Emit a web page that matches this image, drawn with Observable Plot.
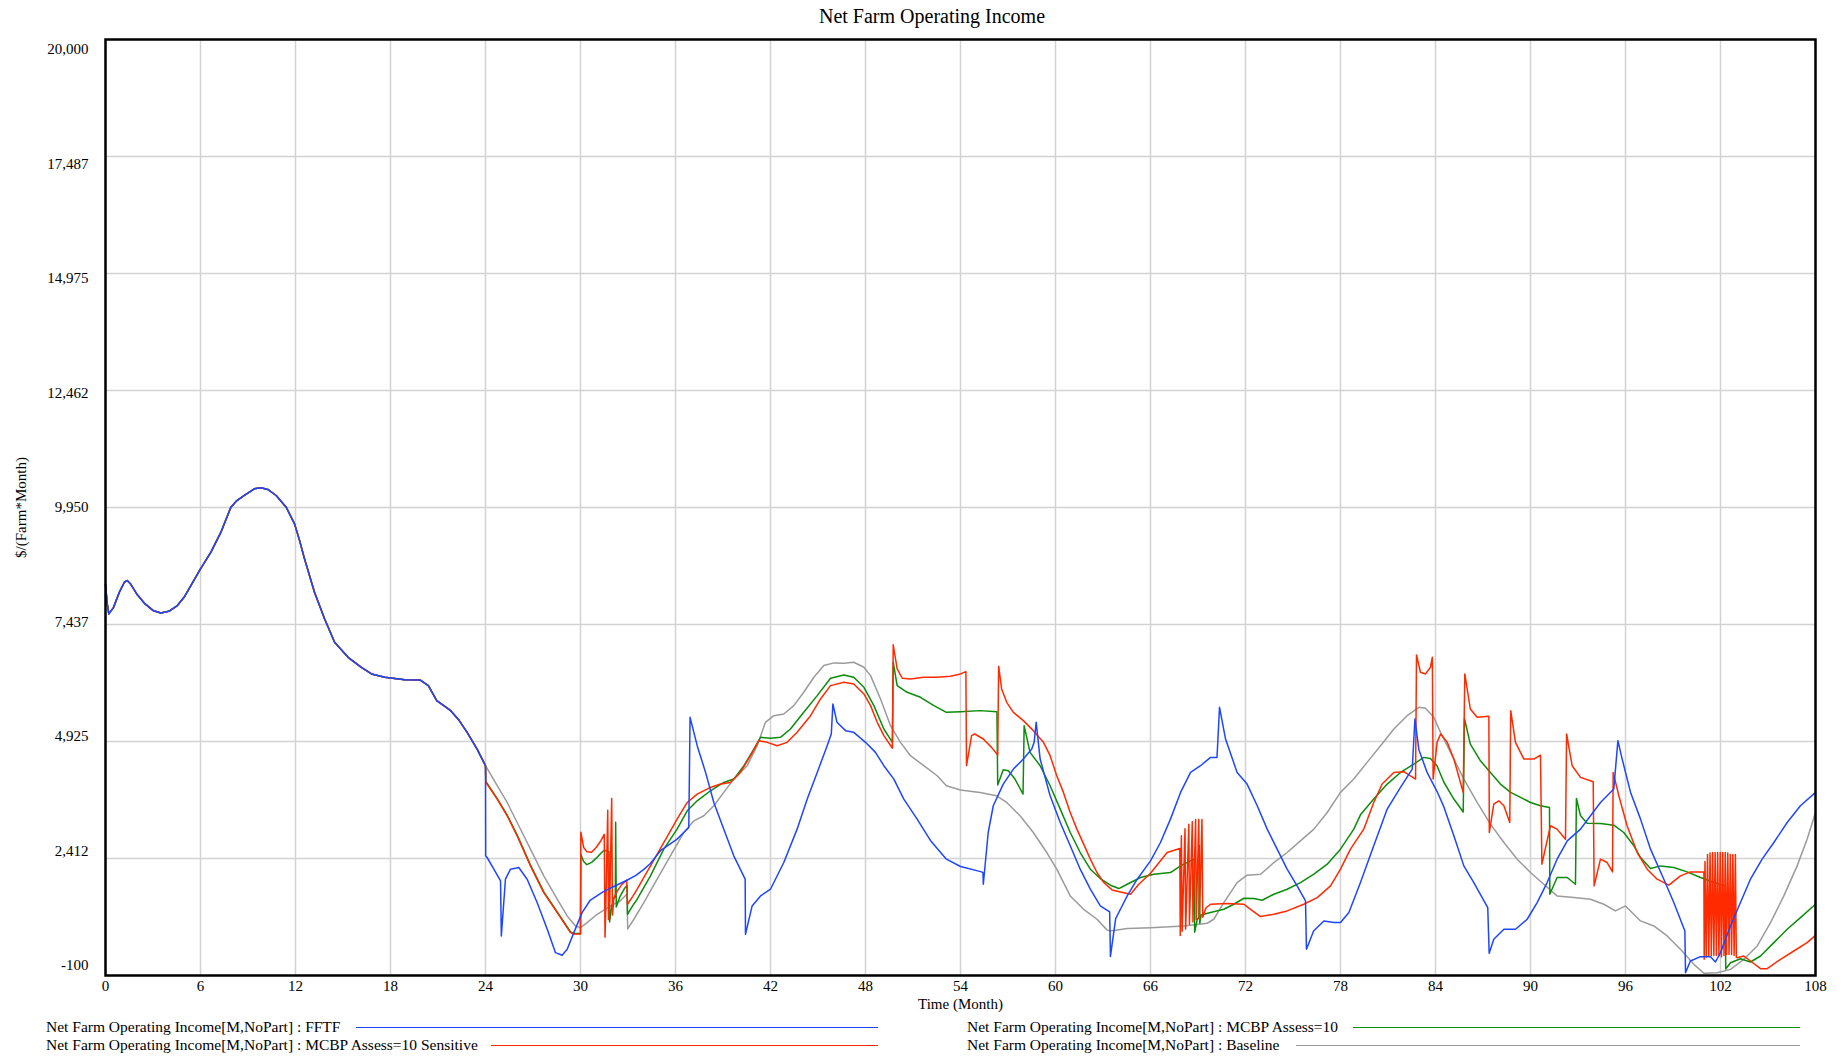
<!DOCTYPE html>
<html>
<head>
<meta charset="utf-8">
<script src="https://cdn.jsdelivr.net/npm/d3@7"></script>
<script src="https://cdn.jsdelivr.net/npm/@observablehq/plot@0.6"></script>
<style>
  html, body { margin: 0; padding: 0; background: #fff; }
  body { width: 1843px; height: 1057px; position: relative; overflow: hidden;
         font-family: "Liberation Serif", "Times New Roman", serif; color: #000; }
  #title { position: absolute; top: 4px; left: 932px; transform: translateX(-50%);
           font-size: 20px; white-space: nowrap; line-height: 24px; }
  #chart { position: absolute; top: 30px; left: 0; }
  .lg { position: absolute; font-size: 15.5px; line-height: 18px; white-space: nowrap; }
  .sw { position: absolute; height: 0; border-top-style: solid; border-top-width: 1.5px; }
</style>
</head>
<body>
<div id="title">Net Farm Operating Income</div>
<div id="chart"></div>
<div id="legend"></div>
<script>
// ---- axis ticks ----
const xTicks = [0, 6, 12, 18, 24, 30, 36, 42, 48, 54, 60, 66, 72, 78, 84, 90, 96, 102, 108];
const yTicks = [-100, 2412, 4925, 7437, 9950, 12462, 14975, 17487, 20000];

// ---- series names ----
const seriesNames = [
  "Net Farm Operating Income[M,NoPart] : FFTF",
  "Net Farm Operating Income[M,NoPart] : MCBP Assess=10",
  "Net Farm Operating Income[M,NoPart] : MCBP Assess=10 Sensitive",
  "Net Farm Operating Income[M,NoPart] : Baseline"
];

// ---- shared path (all runs identical until month 24) : [month, value] ----
const early = [
  [0, 8300], [0.1, 7900], [0.21, 7665], [0.5, 7800], [0.9, 8150], [1.2, 8350], [1.37, 8381],
  [1.6, 8300], [2.0, 8080], [2.5, 7880], [3.0, 7740], [3.49, 7686], [4.0, 7720], [4.54, 7844],
  [5.0, 8040], [5.39, 8274], [6, 8632], [6.66, 8990], [7.29, 9420], [7.92, 9957], [8.3, 10100],
  [8.77, 10208], [9.4, 10351], [9.82, 10373], [10.25, 10337], [10.78, 10208], [11.41, 9957],
  [11.94, 9599], [12.25, 9250], [12.57, 8847], [13.2, 8130], [13.84, 7557], [14.47, 7056], [15.32, 6733],
  [16.16, 6518], [16.8, 6375], [17.64, 6303], [18.9, 6253], [19.86, 6246], [20.39, 6124],
  [20.92, 5802], [21.76, 5600], [22.29, 5400], [22.84, 5122], [23.47, 4763], [24, 4405]
];

// ---- FFTF (blue) after month 24 ----
const fftfLate = [
  [24.01, 2470], [24.1, 2434], [24.5, 2200], [24.95, 1932], [25.0, 749], [25.26, 1968], [25.58, 2183],
  [26.1, 2219], [26.63, 1968], [27.26, 1466], [27.9, 893], [28.42, 391], [28.84, 334], [29.16, 463],
  [29.58, 821], [30.1, 1250], [30.6, 1511], [31.4, 1689], [32.0, 1796], [32.9, 1940], [33.5, 2050],
  [34.0, 2180], [34.4, 2300], [35.05, 2580], [36.1, 2828], [36.84, 3079], [36.92, 5444],
  [37.37, 4835], [37.9, 4261], [38.42, 3616], [39.05, 3043], [39.68, 2470], [40.4, 1968], [40.42, 785],
  [40.84, 1394], [41.37, 1609], [42, 1753], [42.84, 2326], [43.68, 3043], [44.32, 3688], [44.95, 4261],
  [45.58, 4835], [45.84, 5086], [45.94, 5731], [46.2, 5337], [46.74, 5158], [47.26, 5122], [48, 4907],
  [48.63, 4692], [49.16, 4405], [49.79, 4118], [50.42, 3688], [51.26, 3258], [52.1, 2800], [53.11, 2398],
  [54, 2240], [55.33, 2125], [55.42, 2110], [55.44, 1860], [55.75, 2971], [56.07, 3545], [56.7, 4011],
  [57.34, 4333], [57.97, 4548], [58.5, 4763], [58.65, 4907], [58.78, 5337], [59.03, 4548], [59.66, 3760],
  [60.3, 3186], [60.93, 2685], [61.56, 2183], [62.2, 1753], [62.83, 1394], [63.42, 1265], [63.47, 310],
  [63.8, 1120], [64.1, 1322], [64.53, 1609], [65.16, 1968], [66, 2362], [66.63, 2756], [67.26, 3258],
  [67.9, 3832], [68.53, 4261], [69.16, 4405], [69.79, 4584], [70.2, 4584], [70.36, 5659], [70.74, 4978],
  [71.47, 4261], [72.1, 4011], [72.74, 3545], [73.37, 3043], [74, 2613], [74.63, 2183], [75.26, 1824],
  [75.79, 1502], [75.85, 462], [76.3, 857], [76.95, 1072], [77.58, 1036], [78, 1036], [78.53, 1251],
  [79.26, 1896], [80.1, 2685], [80.95, 3473], [81.79, 3940], [82.53, 4330], [82.7, 5408], [82.95, 4750],
  [83.47, 4261], [84.1, 3850], [84.53, 3520], [85.16, 2900], [85.79, 2254], [86.42, 1896], [87.3, 1358],
  [87.39, 376], [87.68, 677], [88.32, 893], [89.05, 893], [89.79, 1108], [90.42, 1466], [91.05, 1896],
  [91.68, 2398], [92.32, 2792], [93.16, 3043], [93.79, 3330], [94.42, 3616], [95.26, 3903], [95.52, 4943],
  [95.79, 4548], [96.32, 3832], [96.95, 3258], [97.58, 2613], [98.42, 1968], [99.05, 1466], [99.75, 857],
  [99.79, -39], [100.1, 211], [100.74, 305], [101.37, 305], [101.68, 190], [102, 391], [102.63, 964],
  [103.26, 1466], [103.89, 1968], [104.63, 2398], [105.37, 2756], [106.21, 3186], [107.05, 3545], [108, 3832]
];

// ---- MCBP Assess=10 (green) after month 24 ----
const assessLate = [
  [24.02, 4070], [24.74, 3700], [25.37, 3345], [26, 2915], [26.84, 2270], [27.68, 1695], [28.53, 1265],
  [29.37, 835], [29.6, 800], [30, 800], [30.02, 2500], [30.2, 2350], [30.4, 2280], [30.7, 2330],
  [31.0, 2420], [31.3, 2530], [31.5, 2590], [31.8, 2560], [31.84, 1050], [31.95, 1350], [32.1, 1550],
  [32.2, 1600], [32.22, 3192], [32.26, 1370], [32.5, 1600], [32.8, 1780], [32.94, 1830], [32.97, 1215],
  [33.3, 1400], [33.58, 1538], [34.42, 2040], [35.26, 2613], [36.1, 3043], [36.74, 3437], [37.37, 3652],
  [38.21, 3867], [39.05, 4046], [39.68, 4118], [40.32, 4405], [40.95, 4763], [41.37, 5014], [42, 4993],
  [42.63, 5014], [43.26, 5193], [44.1, 5552], [44.95, 5910], [45.79, 6283], [46.63, 6355], [47.26, 6304],
  [47.9, 6089], [48.53, 5695], [49.16, 5193], [49.7, 4907], [49.75, 6627], [50, 6125], [50.63, 5982],
  [51.47, 5874], [52.32, 5695], [53.11, 5552], [54, 5566], [55.23, 5588], [56.3, 5566], [56.35, 3989],
  [56.7, 4319], [57.02, 4297], [57.44, 4118], [57.95, 3796], [58.02, 5265], [58.39, 4692], [59.03, 4405],
  [59.66, 3975], [60.3, 3473], [60.93, 2971], [61.56, 2541], [62.2, 2183], [62.83, 1982], [63.47, 1839],
  [64, 1767], [64.53, 1860], [65.37, 2004], [66.21, 2075], [67.26, 2111], [67.9, 2254], [68.53, 2362],
  [68.76, 2400], [68.79, 830], [68.95, 1100], [69.06, 1150], [69.08, 2692], [69.11, 1020], [69.2, 1200],
  [69.79, 1251], [70.63, 1322], [71.26, 1430], [71.9, 1559], [72.53, 1552], [73.05, 1516], [73.79, 1645],
  [74.63, 1753], [75.47, 1896], [76.32, 2075], [77.16, 2290], [78, 2613], [78.84, 3043], [79.26, 3350],
  [80.1, 3688], [80.95, 4011], [81.79, 4260], [82.63, 4441], [83.26, 4584], [83.68, 4560], [84.1, 4400],
  [84.53, 4050], [85.16, 3690], [85.75, 3410], [85.83, 5415], [86.2, 4870], [86.84, 4510], [87.47, 4261],
  [88.1, 4011], [88.74, 3832], [89.37, 3724], [90, 3616], [90.63, 3545], [91.2, 3509], [91.22, 1645],
  [91.68, 2004], [92.32, 2004], [92.84, 1860], [92.9, 3702], [93.16, 3330], [93.58, 3172], [94.42, 3165],
  [95.26, 3129], [95.89, 2971], [96.53, 2685], [96.95, 2434], [97.58, 2197], [98.21, 2254], [99.05, 2219],
  [99.89, 2125], [100.74, 2004], [101.58, 1896], [102.3, 1824], [102.33, 40], [102.63, 175], [103.26, 261],
  [103.89, 190], [104.53, 319], [105.37, 606], [106.21, 892], [107.05, 1143], [108, 1430]
];

// ---- MCBP Assess=10 Sensitive (red) after month 24 ----
const sensitiveLate = [
  [24.02, 4050], [24.74, 3688], [25.37, 3330], [26, 2900], [26.84, 2254], [27.68, 1681], [28.53, 1251],
  [29.37, 821], [29.6, 790], [30, 790], [30.02, 2977], [30.2, 2650], [30.4, 2560], [30.7, 2548],
  [31.0, 2655], [31.3, 2800], [31.5, 2930], [31.55, 720], [31.6, 1400], [31.72, 3450], [31.77, 1100],
  [31.85, 1500], [31.97, 3700], [32.02, 1200], [32.1, 1550], [32.3, 1700], [32.6, 1850], [32.92, 1950],
  [32.97, 1430], [33.3, 1600], [33.58, 1753], [34.42, 2255], [35.26, 2756], [36.1, 3258], [36.74, 3616],
  [37.37, 3796], [38.21, 3939], [38.84, 4011], [39.47, 4046], [40.1, 4261], [40.74, 4620], [41.26, 4943],
  [41.79, 4907], [42.42, 4835], [43.05, 4907], [43.68, 5122], [44.53, 5480], [45.16, 5839], [45.79, 6125],
  [46.63, 6197], [47.26, 6161], [47.9, 5946], [48.32, 5695], [48.74, 5337], [49.16, 5050], [49.7, 4780],
  [49.75, 7000], [50, 6484], [50.32, 6283], [50.84, 6269], [51.68, 6304], [52.53, 6304], [53.37, 6326],
  [54, 6376], [54.34, 6426], [54.38, 4405], [54.7, 5050], [54.9, 5086], [55.44, 4979], [55.96, 4799],
  [56.35, 4634], [56.41, 6541], [56.6, 6054], [56.92, 5767], [57.34, 5552], [57.97, 5373], [58.6, 5158],
  [59.24, 4907], [59.66, 4620], [60.08, 4190], [60.5, 3832], [60.93, 3401], [61.35, 3043], [61.78, 2720],
  [62.2, 2398], [62.62, 2111], [63.05, 1896], [63.57, 1738], [64.1, 1695], [64.74, 1645], [65.26, 1860],
  [66, 2097], [67.05, 2541], [67.85, 2627], [67.88, 760], [67.95, 2900], [68.0, 850], [68.18, 3050],
  [68.22, 900], [68.42, 3150], [68.46, 1000], [68.64, 3200], [68.68, 1050], [68.85, 3250], [68.89, 1100],
  [69.05, 3250], [69.09, 1100], [69.25, 3250], [69.3, 1150], [69.5, 1350], [69.79, 1430], [70.84, 1444],
  [71.9, 1430], [72.32, 1322], [72.95, 1165], [73.79, 1215], [74.63, 1287], [75.68, 1430], [76.53, 1573],
  [77.37, 1824], [78, 2183], [78.63, 2613], [79.47, 3043], [80.1, 3616], [80.63, 4011], [81.37, 4261],
  [82, 4276], [82.74, 4118], [82.8, 6785], [83.05, 6412], [83.37, 6376], [83.68, 6520], [83.8, 6735],
  [83.85, 4118], [84.1, 4907], [84.32, 5086], [84.74, 4907], [85.16, 4548], [85.75, 3832], [85.85, 6376],
  [86.2, 5623], [86.63, 5444], [87.37, 5466], [87.4, 2971], [87.68, 3580], [88, 3652], [88.32, 3545],
  [88.69, 3186], [88.75, 5588], [89.05, 4907], [89.58, 4548], [90.21, 4548], [90.63, 4634], [90.72, 2290],
  [91.26, 3115], [91.68, 3043], [92.21, 2828], [92.28, 5086], [92.63, 4405], [93.16, 4154], [93.96, 4061],
  [94.02, 1825], [94.42, 2398], [94.84, 2326], [95.18, 2125], [95.22, 4261], [95.58, 3760], [96.1, 3115],
  [96.74, 2541], [97.37, 2183], [98, 1968], [98.74, 1839], [99.47, 2040], [100.1, 2125], [100.95, 2125],
  [100.97, 250], [101.02, 2350], [101.1, 300], [101.18, 2500], [101.26, 320], [101.34, 2530], [101.42, 330],
  [101.5, 2540], [101.58, 330], [101.66, 2540], [101.74, 330], [101.82, 2540], [101.9, 320], [101.98, 2540],
  [102.06, 300], [102.14, 2540], [102.22, 330], [102.3, 2540], [102.38, 350], [102.46, 2530], [102.54, 350],
  [102.62, 2500], [102.7, 350], [102.78, 2500], [102.86, 330], [102.94, 2500], [103.0, 290], [103.05, 283],
  [103.47, 319], [103.89, 211], [104.53, 46], [104.95, 46], [105.79, 247], [106.63, 426], [107.47, 606],
  [108, 763]
];

// ---- Baseline (grey) after month 24 ----
const baselineLate = [
  [24.74, 3975], [25.37, 3616], [26, 3186], [26.84, 2613], [27.68, 2040], [28.53, 1538], [29.16, 1179],
  [29.68, 964], [30, 928], [30.42, 1036], [31.05, 1215], [31.9, 1394], [32.5, 1500], [32.94, 1650],
  [32.98, 900], [33.37, 1108], [34, 1466], [34.84, 1968], [35.68, 2470], [36.53, 2971], [37.16, 3222],
  [37.79, 3330], [38.42, 3545], [39.05, 3832], [39.68, 4118], [40.53, 4405], [41.16, 4835], [41.68, 5337],
  [42.21, 5480], [42.84, 5516], [43.47, 5695], [44.1, 5982], [44.74, 6304], [45.37, 6555], [46, 6613],
  [46.63, 6606], [47.26, 6627], [47.9, 6519], [48.32, 6340], [48.95, 5839], [49.58, 5265], [50.21, 4907],
  [50.84, 4620], [51.68, 4405], [52.53, 4190], [53.11, 3975], [54, 3882], [55.23, 3832], [56.28, 3760],
  [56.92, 3616], [57.76, 3330], [58.6, 2971], [59.45, 2541], [60.08, 2183], [60.93, 1609], [61.78, 1322],
  [62.62, 1108], [63.25, 880], [63.47, 857], [64.53, 907], [66, 928], [68.1, 964], [69.58, 1022],
  [70, 1108], [70.63, 1466], [71.47, 1896], [72.1, 2054], [72.95, 2075], [73.79, 2326], [74.63, 2541],
  [75.47, 2792], [76.32, 3043], [77.16, 3401], [78, 3832], [78.84, 4118], [79.68, 4477], [80.53, 4835],
  [81.37, 5193], [82.21, 5480], [82.95, 5659], [83.37, 5638], [83.89, 5444], [84.32, 5122], [84.95, 4692],
  [85.79, 4118], [86.63, 3616], [87.47, 3151], [88.32, 2756], [89.16, 2398], [90, 2111], [90.84, 1860],
  [91.68, 1609], [92.74, 1573], [93.79, 1538], [94.63, 1430], [95.37, 1287], [96, 1394], [96.95, 1072],
  [97.79, 964], [98.63, 749], [99.47, 462], [100.32, 140], [100.95, -53], [101.79, -39], [102.63, 32],
  [103.47, 247], [104.32, 534], [105.16, 1036], [106, 1609], [106.84, 2254], [107.47, 2828], [108, 3401]
];

// ---- build tables ----
const toRows = (pairs) => pairs.map(([t, v]) => ({t, v}));
const fftf = toRows(early.concat(fftfLate));
const assess = toRows(early.concat(assessLate));
const sensitive = toRows(early.concat(sensitiveLate));
const baseline = toRows(early.concat(baselineLate));

const colors = {fftf: "#1e46ff", assess: "#0b8c0b", sensitive: "#ff2a00", baseline: "#9b9b9b"};
const fmt = (v) => v.toLocaleString("en-US");
const font = "'Liberation Serif', 'Times New Roman', serif";

const chart = Plot.plot({
  width: 1843,
  height: 986,
  marginTop: 9,
  marginBottom: 41,
  marginLeft: 105,
  marginRight: 28,
  style: {fontFamily: font, fontSize: "15px", color: "#000", background: "#fff", overflow: "visible"},
  x: {domain: [0, 108]},
  y: {domain: [-100, 20000]},
  marks: [
    Plot.gridX(xTicks, {stroke: "#d2d2d2", strokeOpacity: 1, strokeWidth: 1.5}),
    Plot.gridY(yTicks, {stroke: "#d2d2d2", strokeOpacity: 1, strokeWidth: 1.5}),
    Plot.axisX(xTicks, {tickSize: 0, tickPadding: 5, label: null, tickFormat: (d) => String(d), fontSize: 15}),
    ...yTicks.map((v, j) => Plot.axisY([v], {tickSize: 0, tickPadding: 17, dy: -10 + 2.5 * j, label: null, tickFormat: fmt, fontSize: 15})),
    Plot.text(["Time (Month)"], {frameAnchor: "bottom", dy: 33, textAnchor: "middle", fontSize: 15}),
    Plot.text(["$/(Farm*Month)"], {frameAnchor: "left", dx: -84, rotate: -90, textAnchor: "middle", fontSize: 15}),
    Plot.line(baseline, {x: "t", y: "v", stroke: colors.baseline, strokeWidth: 1.5}),
    Plot.line(assess, {x: "t", y: "v", stroke: colors.assess, strokeWidth: 1.5}),
    Plot.line(sensitive, {x: "t", y: "v", stroke: colors.sensitive, strokeWidth: 1.5}),
    Plot.line(fftf, {x: "t", y: "v", stroke: colors.fftf, strokeWidth: 1.5}),
    Plot.frame({stroke: "#000", strokeWidth: 2.5})
  ]
});
document.getElementById("chart").appendChild(chart);

// ---- legend (HTML, below the plot) ----
const legendItems = [
  {name: seriesNames[0], color: colors.fftf, tx: 46, ty: 1018, lx: 356, lw: 522, ly: 1027},
  {name: seriesNames[2], color: colors.sensitive, tx: 46, ty: 1036, lx: 491, lw: 387, ly: 1045},
  {name: seriesNames[1], color: colors.assess, tx: 967, ty: 1018, lx: 1353, lw: 447, ly: 1027},
  {name: seriesNames[3], color: colors.baseline, tx: 967, ty: 1036, lx: 1296, lw: 504, ly: 1045}
];
const legend = document.getElementById("legend");
for (const it of legendItems) {
  const t = document.createElement("div");
  t.className = "lg";
  t.style.left = it.tx + "px";
  t.style.top = it.ty + "px";
  t.textContent = it.name;
  legend.appendChild(t);
  const s = document.createElement("div");
  s.className = "sw";
  s.style.left = it.lx + "px";
  s.style.top = it.ly + "px";
  s.style.width = it.lw + "px";
  s.style.borderTopColor = it.color;
  legend.appendChild(s);
}
</script>
</body>
</html>
